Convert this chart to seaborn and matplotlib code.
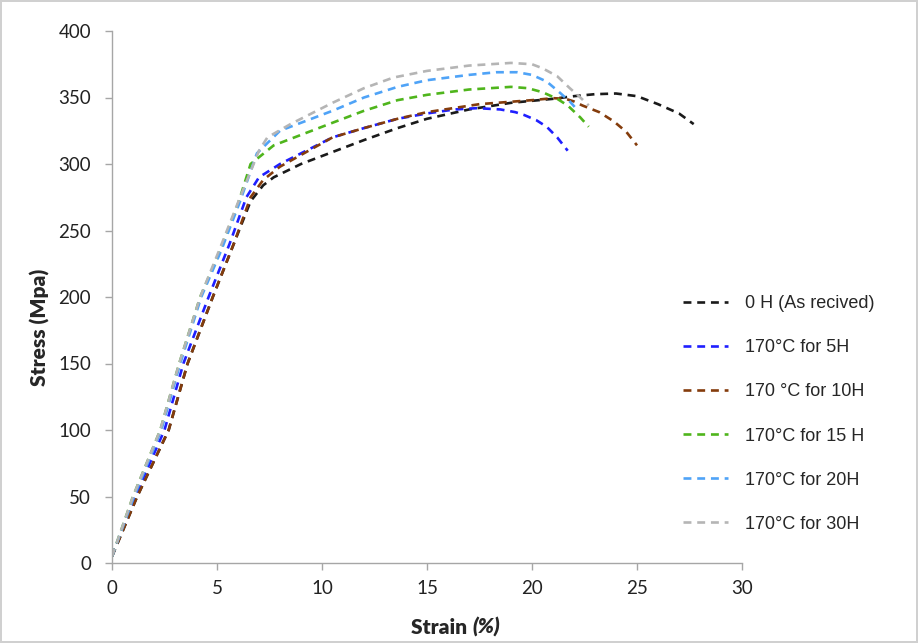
import matplotlib
matplotlib.use("Agg")
import matplotlib.pyplot as plt
import pandas as pd
import seaborn as sns

labels = ["0 H (As recived)", "170°C for 5H", "170 °C for 10H",
          "170°C for 15 H", "170°C for 20H", "170°C for 30H"]
colors = ["#1a1a1a", "#1f1fff", "#843c0c", "#4fb51c", "#4fa3f7", "#b5b5b5"]

strain_0h = [0, 1.2, 2.7, 3.6, 4.8, 5.8, 6.6, 7.2, 7.7, 9, 10.5, 12, 13.6, 15, 17, 19, 21, 22, 23, 24, 25, 26, 27, 27.7]
stress_0h = [5, 50, 100, 150, 200, 240, 272, 284, 290, 300, 309, 318, 327, 334, 341, 346, 349, 351, 352.5, 353, 351, 345, 338, 330]

strain_5h = [0, 1.1, 2.5, 3.4, 4.6, 5.6, 6.4, 7.0, 8, 10.5, 12, 13.6, 15, 16.3, 17.4, 18.5, 19.2, 19.6, 20.2, 20.7, 21.2, 21.7]
stress_5h = [5, 50, 100, 150, 200, 240, 275, 290, 300, 320, 327, 334, 338, 341, 342, 341, 339, 337, 333, 328, 320, 310]

strain_10h = [0, 1.2, 2.7, 3.6, 4.8, 5.8, 6.6, 7.2, 8, 10.5, 12, 13.6, 15, 17.5, 20, 21, 21.6, 22, 22.4, 23.2, 23.9, 24.5, 25]
stress_10h = [5, 50, 100, 150, 200, 240, 275, 288, 298, 320, 327, 334, 339, 345, 348, 349.5, 349, 347, 344, 339, 332, 324, 314]

strain_15h = [0, 1.0, 2.3, 3.2, 4.2, 5.1, 6.0, 6.6, 7.7, 10.5, 12, 13.6, 15, 17, 19, 19.8, 20.5, 21.2, 21.7, 22.3, 22.7]
stress_15h = [5, 50, 100, 150, 200, 233, 270, 300, 314, 331, 340, 348, 352, 356, 358, 357, 354, 349, 344, 335, 328]

strain_20h = [0, 1.05, 2.35, 3.25, 4.25, 5.2, 6.1, 6.9, 8, 10.5, 12, 13.6, 15, 17, 18.3, 19.3, 20, 20.7, 21.3, 21.8, 22.2]
stress_20h = [5, 50, 100, 150, 200, 235, 272, 308, 325, 340, 350, 358, 363, 367, 369, 369, 367, 362, 354, 347, 340]

strain_30h = [0, 1.0, 2.3, 3.2, 4.2, 5.1, 6.1, 7.0, 7.4, 8.5, 10.5, 12, 13.4, 15, 17, 19, 20, 20.5, 21.2, 21.8, 22.3, 22.7]
stress_30h = [5, 50, 100, 150, 200, 235, 275, 310, 320, 330, 346, 357, 365, 370, 374, 376, 375, 372, 366, 357, 350, 344]

strains = [strain_0h, strain_5h, strain_10h, strain_15h, strain_20h, strain_30h]
stresses = [stress_0h, stress_5h, stress_10h, stress_15h, stress_20h, stress_30h]

frames = []
for lab, xs, ys in zip(labels, strains, stresses):
    frames.append(pd.DataFrame({"strain": xs, "stress": ys, "sample": lab}))
df = pd.concat(frames, ignore_index=True)

sns.set_style("white")
plt.rcParams["font.family"] = ["Liberation Sans", "DejaVu Sans"]

fig = plt.figure(figsize=(9.18, 6.43), dpi=100)
fig.patch.set_edgecolor("#d0d0d0")
fig.patch.set_linewidth(1.5)
ax = fig.add_axes([112 / 918, 80 / 643, 630 / 918, 532 / 643])

sns.lineplot(data=df, x="strain", y="stress", hue="sample", hue_order=labels,
             palette=colors, sort=False, estimator=None, legend=False,
             linewidth=1.9, ax=ax)
for line in ax.lines:
    line.set_dashes((3, 2.2))

ax.set_xlim(0, 30)
ax.set_ylim(0, 400)
ax.set_xticks(range(0, 31, 5))
ax.set_yticks(range(0, 401, 50))
ax.tick_params(axis="both", direction="out", length=5, width=1, color="#a6a6a6",
               labelsize=13.5, labelcolor="#222222", bottom=True, left=True)
ax.tick_params(axis="x", pad=7)
ax.tick_params(axis="y", pad=10)
for lbl in ax.get_xticklabels() + ax.get_yticklabels():
    lbl.set_family("Lato")
sns.despine(ax=ax)
for s in ["left", "bottom"]:
    ax.spines[s].set_color("#a6a6a6")
    ax.spines[s].set_linewidth(1)

ax.set_xlabel("")
ax.set_ylabel("")
fig.text(40 / 918, 1 - 327 / 643, "Stress (Mpa)", fontsize=15, family="Lato",
         fontweight="heavy", rotation=90, ha="center", va="center")
t1 = fig.text(411 / 918, 1 - 634 / 643, "Strain ", fontsize=15, family="Lato",
              fontweight="heavy", ha="left", va="baseline")
ax.annotate("(%)", xy=(1, 0), xycoords=t1, fontsize=15, family="Lato",
            fontweight="heavy", fontstyle="italic", ha="left", va="bottom")

ax.legend(handles=ax.lines, labels=labels, loc="center left",
          bbox_to_anchor=(0.881, 0.280), frameon=False, fontsize=13,
          labelspacing=1.5, handlelength=2.5, handletextpad=0.9)

fig.savefig("out.png", dpi=100)
